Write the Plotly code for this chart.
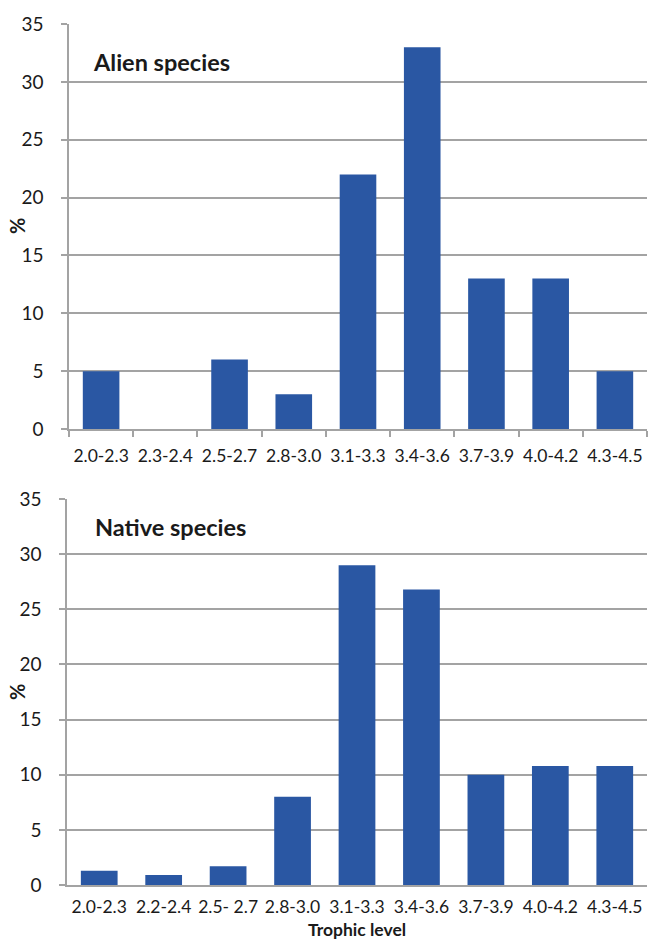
import plotly.graph_objects as go

# ---- data ----
alien_categories = ["2.0-2.3", "2.3-2.4", "2.5-2.7", "2.8-3.0", "3.1-3.3",
                    "3.4-3.6", "3.7-3.9", "4.0-4.2", "4.3-4.5"]
alien_values = [5, 0, 6, 3, 22, 33, 13, 13, 5]

native_categories = ["2.0-2.3", "2.2-2.4", "2.5- 2.7", "2.8-3.0", "3.1-3.3",
                     "3.4-3.6", "3.7-3.9", "4.0-4.2", "4.3-4.5"]
native_values = [1.3, 0.9, 1.7, 8.0, 29.0, 26.8, 10.0, 10.8, 10.8]

y_ticks = [0, 5, 10, 15, 20, 25, 30, 35]

# ---- style ----
W, H = 649, 942
BAR = "#2a57a3"
GRID = "#a3a3a3"
FONT = "Lato"
TXT = "#1a1a1a"

def px(x):
    return x / W

def py(y):
    return 1 - y / H

fig = go.Figure()
fig.add_trace(go.Bar(x=alien_categories, y=alien_values, marker=dict(color=BAR, line=dict(width=0)),
                     xaxis="x", yaxis="y", showlegend=False))
fig.add_trace(go.Bar(x=native_categories, y=native_values, marker=dict(color=BAR, line=dict(width=0)),
                     xaxis="x2", yaxis="y2", showlegend=False))

common_y = dict(range=[0, 35], tickvals=y_ticks, showgrid=True, gridcolor=GRID, gridwidth=1.5,
                showline=True, linecolor=GRID, linewidth=1.5, ticks="outside", ticklen=6,
                tickcolor=GRID, tickwidth=1.5, zeroline=False, fixedrange=True,
                tickfont=dict(family=FONT, size=19, color=TXT), ticklabelstandoff=14,
                automargin=False)

fig.update_layout(
    width=W, height=H,
    margin=dict(l=0, r=0, t=0, b=0),
    paper_bgcolor="white", plot_bgcolor="white",
    bargap=0.43,
    xaxis=dict(domain=[px(69), px(647)], anchor="y", type="category",
               showline=True, linecolor=GRID, linewidth=1.5, ticks="outside",
               tickson="boundaries", ticklen=6, tickcolor=GRID, tickwidth=1.5, tickangle=0,
               tickfont=dict(family=FONT, size=17.5, color=TXT), ticklabelstandoff=10,
               automargin=False, fixedrange=True),
    yaxis=dict(domain=[py(429), py(24)], anchor="x", **common_y),
    xaxis2=dict(domain=[px(67), px(647)], anchor="y2", type="category",
                showline=True, linecolor=GRID, linewidth=1.5, ticks="", tickangle=0,
                tickfont=dict(family=FONT, size=17.5, color=TXT), ticklabelstandoff=5,
                automargin=False, fixedrange=True),
    yaxis2=dict(domain=[py(885), py(499)], anchor="x2", **common_y),
    annotations=[
        dict(text="<b>Alien species</b>", x=px(91), y=py(62), xref="paper", yref="paper",
             xanchor="left", yanchor="middle", showarrow=False,
             font=dict(family=FONT, size=23.5, color=TXT)),
        dict(text="<b>Native species</b>", x=px(93), y=py(527), xref="paper", yref="paper",
             xanchor="left", yanchor="middle", showarrow=False,
             font=dict(family=FONT, size=23.5, color=TXT)),
        dict(text="<b>%</b>", x=px(17), y=py(226), xref="paper", yref="paper",
             xanchor="center", yanchor="middle", showarrow=False, textangle=-90,
             font=dict(family=FONT, size=20, color=TXT)),
        dict(text="<b>%</b>", x=px(17), y=py(692), xref="paper", yref="paper",
             xanchor="center", yanchor="middle", showarrow=False, textangle=-90,
             font=dict(family=FONT, size=20, color=TXT)),
        dict(text="<b>Trophic level</b>", x=px(357), y=py(942), xref="paper", yref="paper",
             xanchor="center", yanchor="bottom", showarrow=False,
             font=dict(family=FONT, size=17.5, color=TXT)),
    ],
)

fig.write_html("out.html", config={"displayModeBar": False},
               post_script="document.body.style.margin='0';document.body.style.overflow='hidden';")
